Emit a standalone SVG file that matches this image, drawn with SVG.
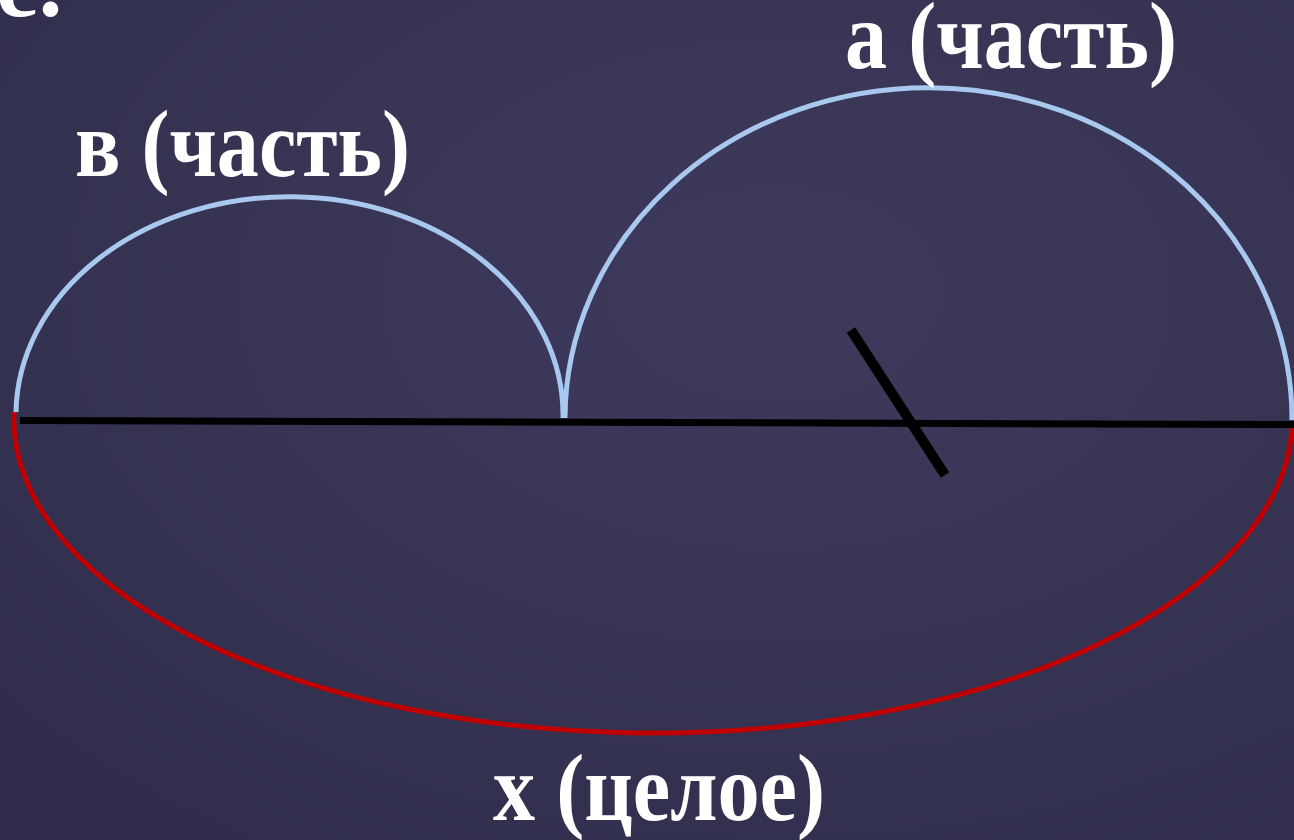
<svg xmlns="http://www.w3.org/2000/svg" width="1294" height="840" viewBox="0 0 1294 840">
<defs>
<radialGradient id="bg" cx="0.6" cy="0.35" r="0.8">
<stop offset="0" stop-color="#3e3a5c"/>
<stop offset="1" stop-color="#302e4c"/>
</radialGradient>
</defs>
<style>
.lbl{font-family:"Liberation Serif",serif;font-weight:bold;font-size:96px;fill:#ffffff}
.part{fill:none;stroke:#a9c8f0;stroke-width:5}
.whole{fill:none;stroke:#c00000;stroke-width:5}
.seg{stroke:#000000;stroke-width:7;fill:none}
</style>
<rect width="1294" height="840" fill="url(#bg)"/>
<text class="lbl" x="-4" y="16">е.</text>
<g id="connectors">
<path class="whole" d="M14,412 A639,314 0 0 0 1292,426"/>
<path class="part" d="M16,412 A273,218 0 0 1 563,418"/>
<path class="part" d="M565,418 A363,331 0 0 1 1292,420"/>
<line class="seg" x1="20" y1="420.5" x2="1294" y2="424.5"/>
<line class="seg" x1="851" y1="330" x2="945" y2="475" style="stroke-width:10"/>
</g>
<g id="label-b"><text class="lbl" x="75" y="176" textLength="335" lengthAdjust="spacingAndGlyphs">в (часть)</text></g>
<g id="label-a"><text class="lbl" x="845" y="68" textLength="332" lengthAdjust="spacingAndGlyphs">а (часть)</text></g>
<g id="label-x"><text class="lbl" x="493" y="820" textLength="332" lengthAdjust="spacingAndGlyphs">х (целое)</text></g>
</svg>
